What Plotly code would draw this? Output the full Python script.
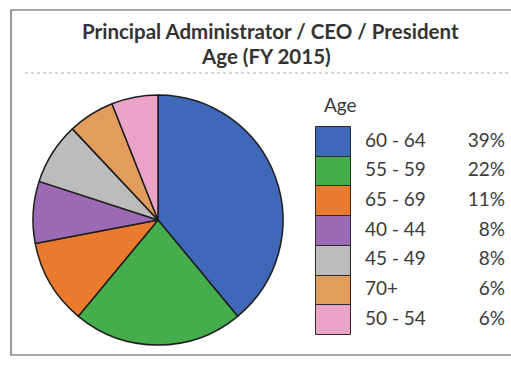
import plotly.graph_objects as go

# ---- data ----
categories = ["60 - 64", "55 - 59", "65 - 69", "40 - 44", "45 - 49", "70+", "50 - 54"]
percents = [39, 22, 11, 8, 8, 6, 6]
colors = ["#4068b8", "#45ad4c", "#ea7a2e", "#9c6ab4", "#bcbcbc", "#e29c5c", "#eba4c8"]
title_line1 = "Principal Administrator / CEO / President"
title_line2 = "Age (FY 2015)"
legend_title = "Age"

W, H = 511, 372
FONT = "Lato"
TXT = "#3a3a3a"

# legend layout (pixels)
row_top, row_h = 127, 29.7
n = len(categories)
y_top_idx = -row_top / row_h - 0.5
y_bot_idx = (H - row_top) / row_h - 0.5

fig = go.Figure()

# Pie: center (158, 220), radius 125
cx, cy, r = 158, 220, 125
fig.add_trace(go.Pie(
    labels=categories, values=percents, sort=False, direction="clockwise",
    rotation=0, textinfo="none", showlegend=False,
    marker=dict(colors=colors, line=dict(color="#1e1e1e", width=1.5)),
    domain=dict(x=[(cx - r) / W, (cx + r) / W], y=[(H - cy - r) / H, (H - cy + r) / H]),
))

# Legend swatches (horizontal bars on a pixel-scaled axis)
sw_x0, sw_w = 316, 35
fig.add_trace(go.Bar(
    orientation="h", y=list(range(n)), x=[sw_w] * n, base=[sw_x0] * n, width=1,
    marker=dict(color=colors, line=dict(color="#2a2a2a", width=1)),
    showlegend=False, hoverinfo="skip",
))
# Legend labels
fig.add_trace(go.Scatter(
    x=[365] * n, y=list(range(n)), mode="text", text=categories,
    textposition="middle right", textfont=dict(family=FONT, size=19, color=TXT),
    showlegend=False, hoverinfo="skip",
))
# Percent column
fig.add_trace(go.Scatter(
    x=[505] * n, y=list(range(n)), mode="text", text=[f"{p}%" for p in percents],
    textposition="middle left", textfont=dict(family=FONT, size=19, color=TXT),
    showlegend=False, hoverinfo="skip",
))

fig.add_annotation(x=322 / W, y=1 - 105 / H, xref="paper", yref="paper", text=legend_title,
                   showarrow=False, xanchor="left", yanchor="middle",
                   font=dict(family=FONT, size=19, color=TXT))

fig.add_annotation(x=270 / W, y=1 - 31 / H, xref="paper", yref="paper",
                   text=f"<b>{title_line1}</b>", showarrow=False,
                   xanchor="center", yanchor="middle", font=dict(family=FONT, size=20.5, color="#333"))
fig.add_annotation(x=266 / W, y=1 - 56 / H, xref="paper", yref="paper",
                   text=f"<b>{title_line2}</b>", showarrow=False,
                   xanchor="center", yanchor="middle", font=dict(family=FONT, size=20.5, color="#333"))

# frame lines
fig.add_shape(type="rect", xref="paper", yref="paper", x0=11 / W, x1=1.05, y0=1 - 355 / H, y1=1 - 10 / H,
              line=dict(color="#555", width=1.2))
fig.add_shape(type="line", xref="paper", yref="paper", x0=25 / W, x1=1, y0=1 - 73 / H, y1=1 - 73 / H,
              line=dict(color="#aaa", width=1, dash="dot"))

fig.update_layout(
    width=W, height=H, margin=dict(l=0, r=0, t=0, b=0),
    paper_bgcolor="white", plot_bgcolor="rgba(0,0,0,0)",
    xaxis=dict(range=[0, W], domain=[0, 1], visible=False, fixedrange=True),
    yaxis=dict(range=[y_bot_idx, y_top_idx], domain=[0, 1], visible=False, fixedrange=True),
    bargap=0, showlegend=False,
)

fig.write_html("out.html")
